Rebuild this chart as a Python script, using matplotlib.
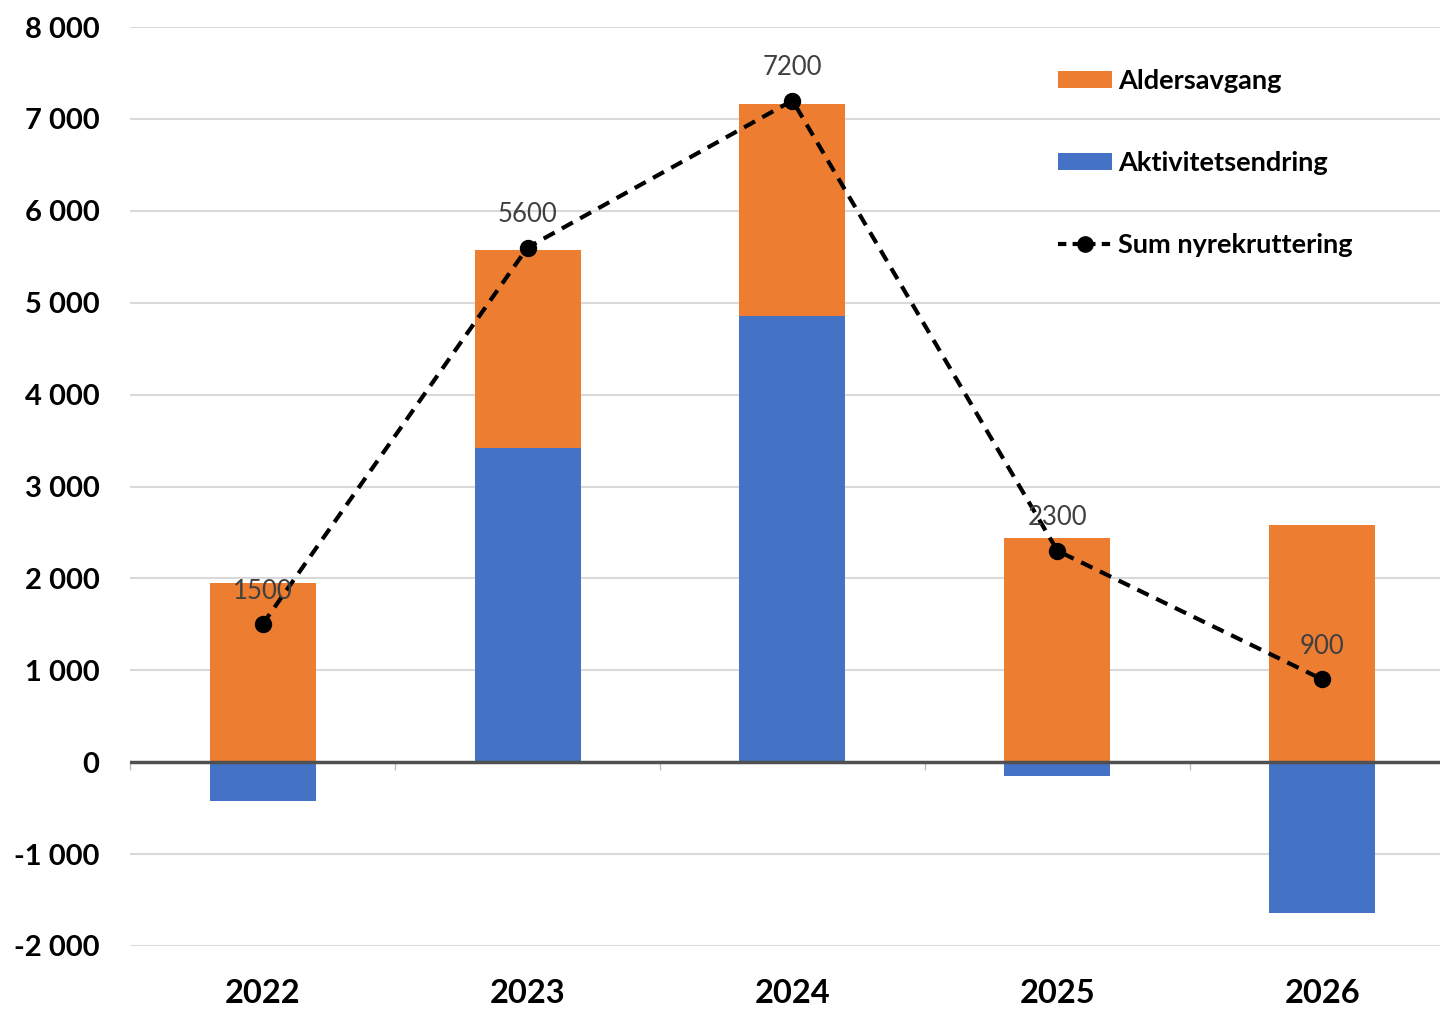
import matplotlib.pyplot as plt
from matplotlib.lines import Line2D
from matplotlib.patches import Patch
from matplotlib.ticker import FuncFormatter

years = ["2022", "2023", "2024", "2025", "2026"]
aldersavgang = [1950, 2150, 2310, 2440, 2580]
aktivitetsendring = [-420, 3420, 4850, -150, -1640]
sum_nyrekruttering = [1500, 5600, 7200, 2300, 900]

# orange sits on top of blue where blue is positive, otherwise from zero
orange_bottom = [max(a, 0) for a in aktivitetsendring]

ORANGE = "#ED7D31"
BLUE = "#4472C4"
FONT = "Lato"

plt.rcParams["font.family"] = [FONT, "DejaVu Sans"]

fig = plt.figure(figsize=(14.4, 10.09), dpi=100)
ax = fig.add_axes([130 / 1440, 63 / 1009, 1325 / 1440, 919 / 1009])

x = list(range(len(years)))
ax.bar(x, aktivitetsendring, width=0.4, color=BLUE, zorder=2)
ax.bar(x, aldersavgang, bottom=orange_bottom, width=0.4, color=ORANGE, zorder=2)
ax.axhline(0, color="#505050", lw=2.5, zorder=3)

ax.plot(x, sum_nyrekruttering, color="black", lw=3, ls=(0, (3, 2)),
        marker="o", markersize=11.5, zorder=4)
for xi, v in zip(x, sum_nyrekruttering):
    ax.annotate(str(v), (xi, v), xytext=(0, 24), textcoords="offset points",
                ha="center", va="center", fontsize=18.5, color="#404040", zorder=5)

ax.set_xlim(-0.5, len(years) - 0.5)
ax.set_ylim(-2000, 8000)
ax.set_yticks(range(-2000, 8001, 1000))
ax.yaxis.set_major_formatter(FuncFormatter(lambda v, _: f"{int(v):,}".replace(",", " ")))
ax.grid(axis="y", color="#D9D9D9", lw=1.5, zorder=0)
ax.set_axisbelow(True)

ax.set_xticks(x)
ax.set_xticklabels(years)
ax.tick_params(axis="x", length=0, pad=24, labelsize=23.5)
ax.tick_params(axis="y", length=0, pad=22, labelsize=21)
for lbl in ax.get_xticklabels() + ax.get_yticklabels():
    lbl.set_fontweight("bold")
for s in ax.spines.values():
    s.set_visible(False)

# small ticks between the categories along the zero line
zero_ax = ax.secondary_xaxis(0.2)
zero_ax.spines["bottom"].set_visible(False)
zero_ax.set_xticks([i + 0.5 for i in range(-1, len(years))])
zero_ax.tick_params(axis="x", length=6, width=1, color="#BFBFBF", labelbottom=False)

handles = [
    Patch(facecolor=ORANGE, label="Aldersavgang"),
    Patch(facecolor=BLUE, label="Aktivitetsendring"),
    Line2D([], [], color="black", lw=3, ls=(0, (2, 1.5)), marker="o",
           markersize=11, label="Sum nyrekruttering"),
]
fig.legend(handles=handles, loc="upper left",
           bbox_to_anchor=(1058 / 1440, 1 - 69 / 1009), frameon=False,
           prop={"family": FONT, "weight": "bold", "size": 19.5},
           handlelength=2.0, handleheight=0.6, handletextpad=0.22,
           labelspacing=2.14, borderpad=0, borderaxespad=0)

fig.savefig("out.png", dpi=100)
